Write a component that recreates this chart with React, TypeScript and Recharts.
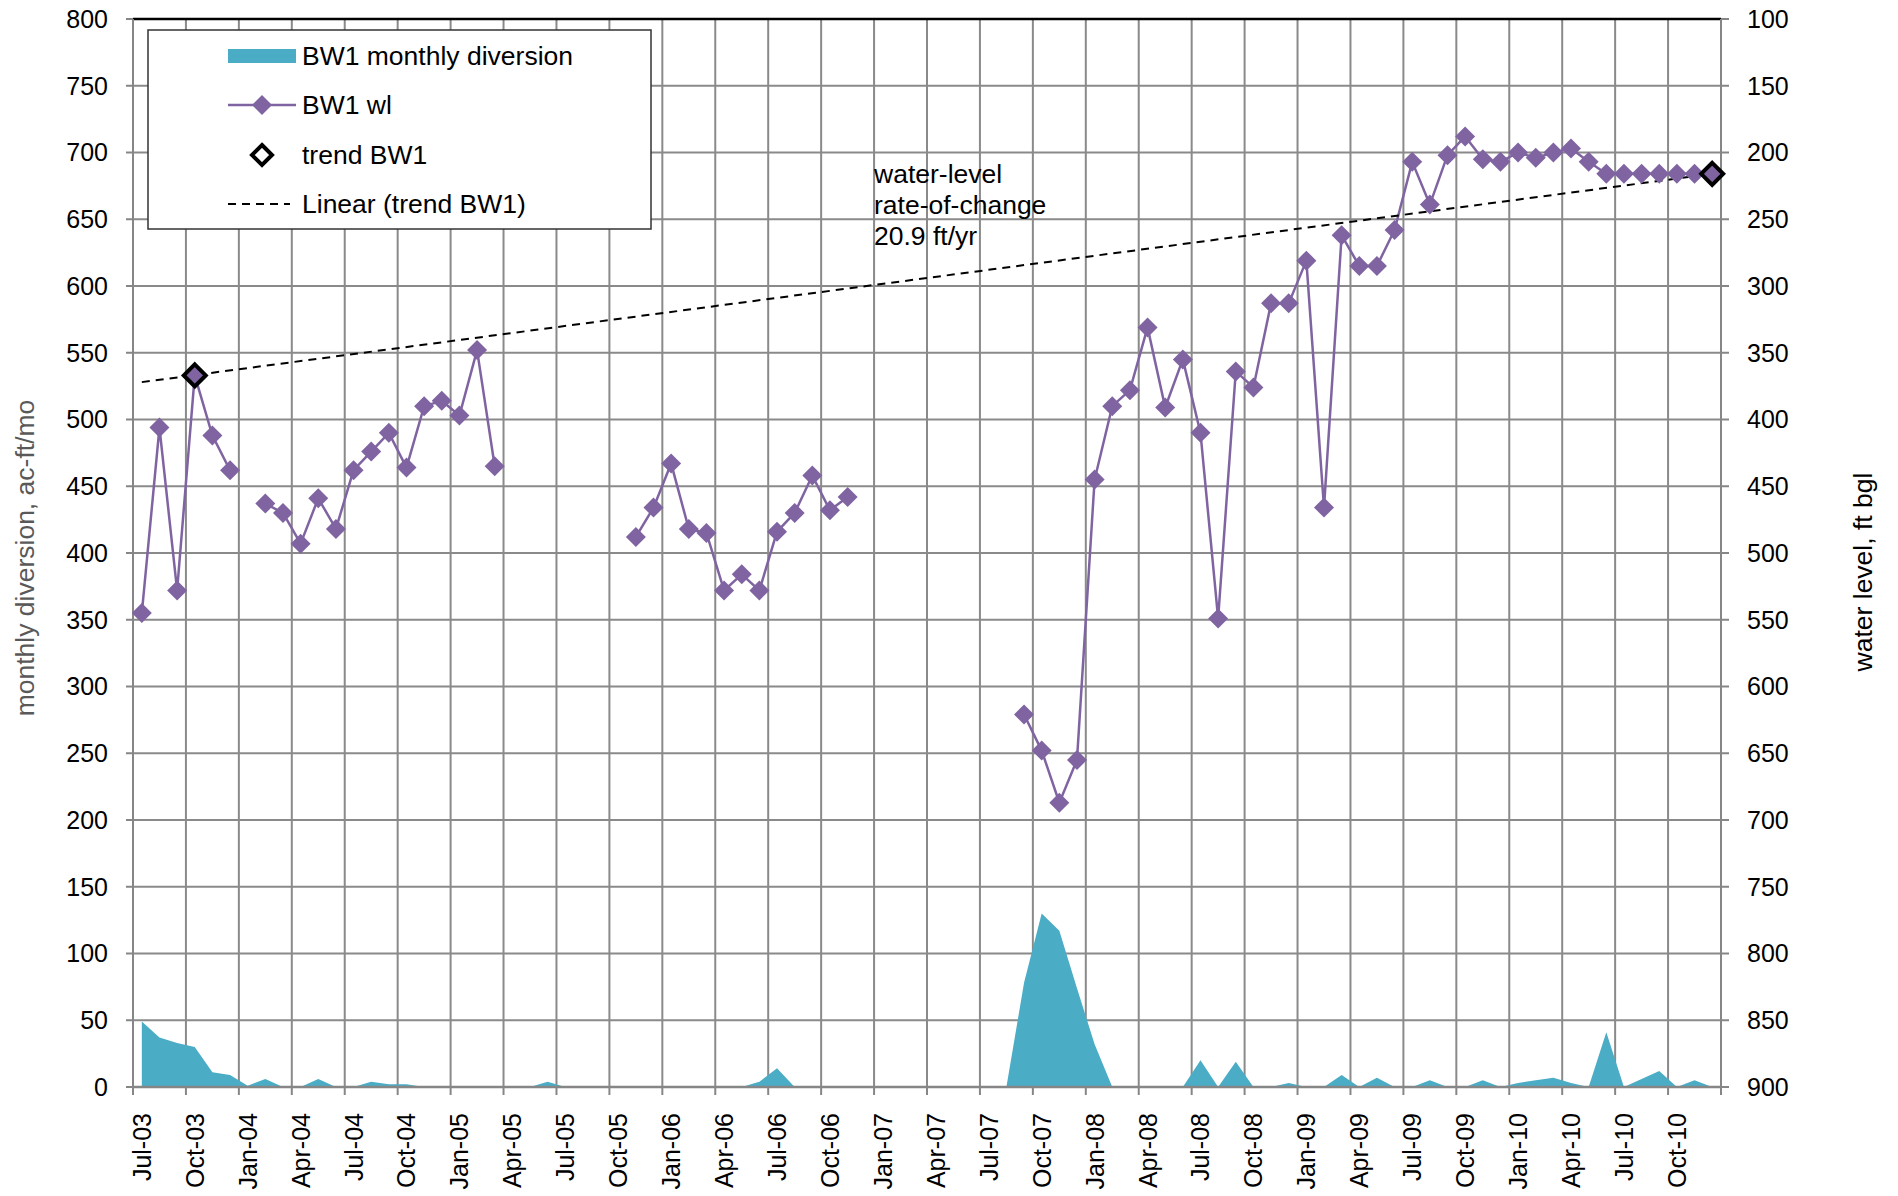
import {
    ComposedChart,
    Area,
    Line,
    XAxis,
    YAxis,
    CartesianGrid,
    ReferenceLine,
} from "recharts";

const FONT = '"Liberation Sans", Arial, sans-serif';
const TEAL = "#4BACC6";
const PURPLE = "#8064A2";
const GRID = "#8a8a8a";

// quarterly tick labels, months run Jul-03 .. Dec-10 (90 months)
const TICK_LABELS = [
    "Jul-03", "Oct-03", "Jan-04", "Apr-04", "Jul-04", "Oct-04", "Jan-05", "Apr-05",
    "Jul-05", "Oct-05", "Jan-06", "Apr-06", "Jul-06", "Oct-06", "Jan-07", "Apr-07",
    "Jul-07", "Oct-07", "Jan-08", "Apr-08", "Jul-08", "Oct-08", "Jan-09", "Apr-09",
    "Jul-09", "Oct-09", "Jan-10", "Apr-10", "Jul-10", "Oct-10",
];

// month boundaries where the vertical gridlines sit
const GRID_TICKS = [
    0, 3, 6, 9, 12, 15, 18, 21, 24, 27, 30, 33, 36, 39, 42, 45,
    48, 51, 54, 57, 60, 63, 66, 69, 72, 75, 78, 81, 84, 87, 90,
];

const LEFT_TICKS = [0, 50, 100, 150, 200, 250, 300, 350, 400, 450, 500, 550, 600, 650, 700, 750, 800];
const RIGHT_TICKS = [100, 150, 200, 250, 300, 350, 400, 450, 500, 550, 600, 650, 700, 750, 800, 850, 900];

// BW1 monthly diversion, ac-ft/mo
const DIVERSION = [
    49, 37, 33, 30, 11, 9, 1, 6, 0, 0,
    6, 0, 0, 4, 2, 2, 0, 0, 0, 0,
    0, 0, 0, 4, 0, 0, 0, 0, 0, 0,
    0, 0, 0, 0, 0, 4, 14, 0, 0, 0,
    0, 0, 0, 0, 0, 0, 0, 0, 0, 0,
    78, 130, 117, 74, 32, 0, 0, 0, 0, 0,
    20, 0, 19, 0, 0, 3, 0, 0, 9, 0,
    7, 0, 0, 5, 0, 0, 5, 0, 3, 5,
    7, 3, 0, 41, 0, 6, 12, 0, 5, 0,
];

// BW1 water level, ft bgl (null = no reading)
const WATER_LEVEL = [
    545, 406, 528, 367, 412, 438, null, 463, 470, 493,
    459, 482, 438, 424, 410, 436, 390, 386, 397, 348,
    435, null, null, null, null, null, null, null, 488, 466,
    433, 482, 485, 528, 516, 528, 484, 470, 442, 468,
    458, null, null, null, null, null, null, null, null, null,
    621, 648, 687, 655, 445, 390, 378, 331, 391, 355,
    410, 549, 364, 376, 313, 313, 281, 466, 262, 285,
    285, 258, 207, 239, 202, 188, 205, 207, 200, 204,
    200, 197, 207, 216, 216, 216, 216, 216, 216, 216,
];

const TREND_POINTS = [
    { month: 3, wl: 367 },
    { month: 89, wl: 216 },
];

// ends of the linear trendline
const TREND_LINE = [
    { month: 0, wl: 372 },
    { month: 89, wl: 216 },
];

const rows = DIVERSION.map((d, i) => ({
    x: i + 0.5,
    div: d,
    wl: WATER_LEVEL[i],
    trendPt: TREND_POINTS.find((p) => p.month === i)?.wl ?? null,
    trendLine: TREND_LINE.find((p) => p.month === i)?.wl ?? null,
}));

const labelTicks = TICK_LABELS.map((_, k) => k * 3 + 0.5);

const MonthTick = (props: any) => {
    const { x, y, payload } = props;
    const label = TICK_LABELS[Math.round((payload.value - 0.5) / 3)];
    return (
        <text
            x={x}
            y={y}
            transform={`rotate(-90 ${x} ${y})`}
            textAnchor="end"
            dominantBaseline="central"
            fontSize={25}
            fontFamily={FONT}
            fill="#000"
        >
            {label}
        </text>
    );
};

const wlDot = (p: any) => {
    if (p.payload?.wl == null || p.cy == null || isNaN(p.cy)) return <g key={`wl-${p.index}`} />;
    const r = 10;
    return (
        <polygon
            key={`wl-${p.index}`}
            points={`${p.cx},${p.cy - r} ${p.cx + r},${p.cy} ${p.cx},${p.cy + r} ${p.cx - r},${p.cy}`}
            fill={PURPLE}
        />
    );
};

const trendDot = (p: any) => {
    if (p.payload?.trendPt == null || p.cy == null || isNaN(p.cy)) return <g key={`tr-${p.index}`} />;
    const r = 11;
    return (
        <polygon
            key={`tr-${p.index}`}
            points={`${p.cx},${p.cy - r} ${p.cx + r},${p.cy} ${p.cx},${p.cy + r} ${p.cx - r},${p.cy}`}
            fill="none"
            stroke="#000"
            strokeWidth={4}
        />
    );
};

export default function App() {
    return (
        <div style={{ position: "absolute", left: 0, top: 0, width: 1898, height: 1196, background: "#fff" }}>
            <ComposedChart
                width={1898}
                height={1196}
                data={rows}
                margin={{ top: 19, right: 0, bottom: 0, left: 0 }}
            >
                <XAxis
                    xAxisId="grid"
                    type="number"
                    dataKey="x"
                    domain={[0, 90]}
                    ticks={GRID_TICKS}
                    height={0}
                    hide
                />
                <XAxis
                    xAxisId="lab"
                    type="number"
                    dataKey="x"
                    domain={[0, 90]}
                    ticks={labelTicks}
                    interval={0}
                    height={109}
                    tickLine={false}
                    tickSize={0}
                    tickMargin={26}
                    axisLine={{ stroke: "#868686", strokeWidth: 2.5 }}
                    tick={<MonthTick />}
                />
                <YAxis
                    yAxisId="left"
                    domain={[0, 800]}
                    ticks={LEFT_TICKS}
                    interval={0}
                    width={133}
                    tickSize={7}
                    tickMargin={18}
                    axisLine={{ stroke: "#868686", strokeWidth: 2 }}
                    tickLine={{ stroke: "#868686", strokeWidth: 2 }}
                    tick={{ fill: "#000", fontSize: 25, fontFamily: FONT }}
                />
                <YAxis
                    yAxisId="right"
                    orientation="right"
                    reversed
                    domain={[100, 900]}
                    ticks={RIGHT_TICKS}
                    interval={0}
                    width={177}
                    tickSize={8}
                    tickMargin={18}
                    axisLine={{ stroke: "#868686", strokeWidth: 2 }}
                    tickLine={{ stroke: "#868686", strokeWidth: 2 }}
                    tick={{ fill: "#000", fontSize: 25, fontFamily: FONT }}
                />
                <CartesianGrid xAxisId="grid" yAxisId="left" stroke={GRID} strokeWidth={2} />
                {GRID_TICKS.map((t) => (
                    <ReferenceLine
                        key={`tk-${t}`}
                        xAxisId="lab"
                        yAxisId="left"
                        segment={[{ x: t, y: 0 }, { x: t, y: -6 }]}
                        ifOverflow="visible"
                        stroke="#868686"
                        strokeWidth={2}
                    />
                ))}
                <ReferenceLine xAxisId="lab" yAxisId="left" y={800} stroke="#000" strokeWidth={2.5} />
                <Area
                    xAxisId="lab"
                    yAxisId="left"
                    type="linear"
                    dataKey="div"
                    stroke="none"
                    fill={TEAL}
                    fillOpacity={1}
                    dot={false}
                    activeDot={false}
                    isAnimationActive={false}
                />
                <Line
                    xAxisId="lab"
                    yAxisId="right"
                    type="linear"
                    dataKey="wl"
                    stroke={PURPLE}
                    strokeWidth={2.5}
                    dot={wlDot}
                    activeDot={false}
                    connectNulls={false}
                    isAnimationActive={false}
                />
                <Line
                    xAxisId="lab"
                    yAxisId="right"
                    type="linear"
                    dataKey="trendLine"
                    stroke="#000"
                    strokeWidth={2}
                    strokeDasharray="8 6"
                    dot={false}
                    activeDot={false}
                    connectNulls
                    isAnimationActive={false}
                />
                <Line
                    xAxisId="lab"
                    yAxisId="right"
                    type="linear"
                    dataKey="trendPt"
                    stroke="none"
                    dot={trendDot}
                    activeDot={false}
                    isAnimationActive={false}
                />
            </ComposedChart>

            <svg
                width={1898}
                height={1196}
                style={{ position: "absolute", left: 0, top: 0, pointerEvents: "none" }}
                fontFamily={FONT}
            >
                {/* legend */}
                <rect x={148} y={30} width={503} height={199} fill="#fff" stroke="#333" strokeWidth={1.5} />
                <rect x={228} y={49} width={68} height={14} fill={TEAL} />
                <line x1={228} y1={105} x2={296} y2={105} stroke={PURPLE} strokeWidth={2.5} />
                <polygon points="262,95 272,105 262,115 252,105" fill={PURPLE} />
                <polygon points="262,145 272,155 262,165 252,155" fill="#fff" stroke="#000" strokeWidth={4} />
                <line x1={228} y1={204} x2={290} y2={204} stroke="#000" strokeWidth={2} strokeDasharray="8 6" />
                <text x={302} y={56} fontSize={26.5} dominantBaseline="central">BW1 monthly diversion</text>
                <text x={302} y={105} fontSize={26.5} dominantBaseline="central">BW1 wl</text>
                <text x={302} y={155} fontSize={26.5} dominantBaseline="central">trend BW1</text>
                <text x={302} y={204} fontSize={26.5} dominantBaseline="central">Linear (trend BW1)</text>

                {/* annotation */}
                <text x={874} y={183} fontSize={26.5}>water-level</text>
                <text x={874} y={214} fontSize={26.5}>rate-of-change</text>
                <text x={874} y={245} fontSize={26.5}>20.9 ft/yr</text>

                {/* axis titles */}
                <text
                    transform="translate(25,558) rotate(-90)"
                    textAnchor="middle"
                    dominantBaseline="central"
                    fontSize={26.5}
                    fill="#595959"
                >
                    monthly diversion, ac-ft/mo
                </text>
                <text
                    transform="translate(1863,572) rotate(-90)"
                    textAnchor="middle"
                    dominantBaseline="central"
                    fontSize={26.5}
                    fill="#000"
                >
                    water level, ft bgl
                </text>
            </svg>
        </div>
    );
}
